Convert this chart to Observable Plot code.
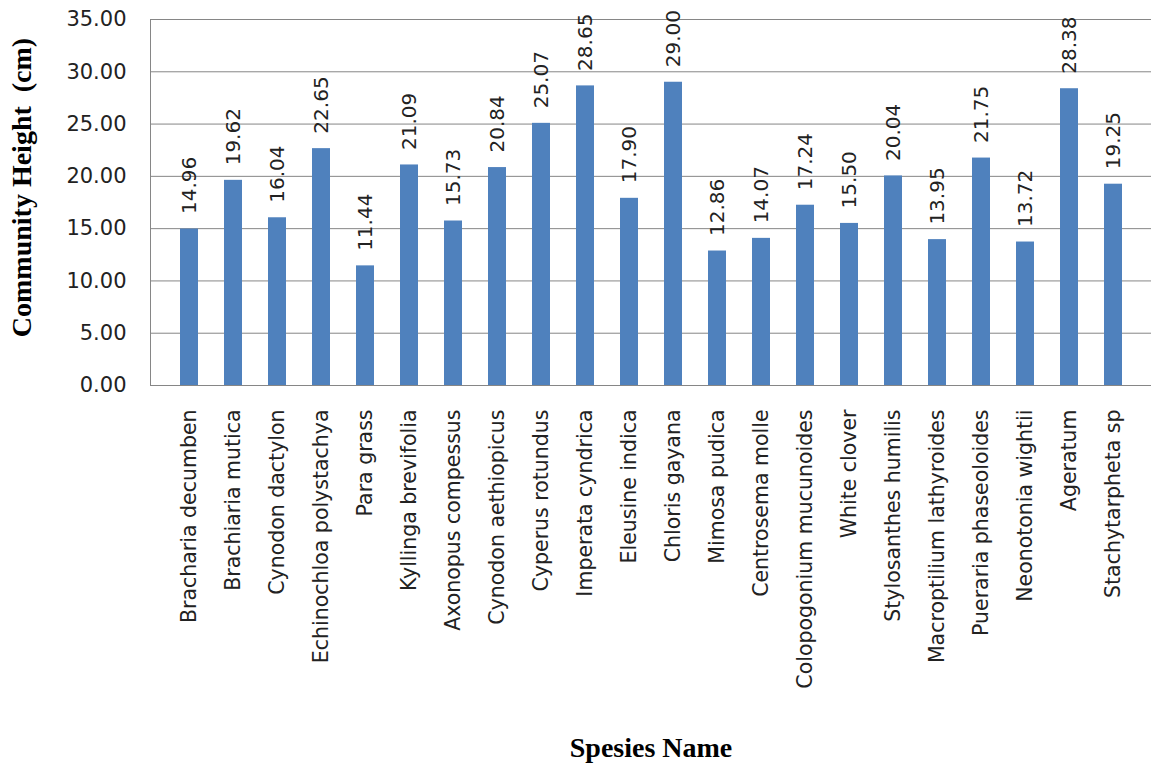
<!DOCTYPE html>
<html>
<head>
<meta charset="utf-8">
<script src="https://cdn.jsdelivr.net/npm/d3@7"></script>
<script src="https://cdn.jsdelivr.net/npm/@observablehq/plot@0.6"></script>
<style>
  html, body { margin: 0; padding: 0; background: #fff; }
  #chart { width: 1151px; height: 767px; }
</style>
</head>
<body>
<div id="chart"></div>
<script>
const species = [
  "Bracharia decumben", "Brachiaria mutica", "Cynodon dactylon", "Echinochloa polystachya",
  "Para grass", "Kyllinga brevifolia", "Axonopus compessus", "Cynodon aethiopicus",
  "Cyperus rotundus", "Imperata cyndrica", "Eleusine indica", "Chloris gayana",
  "Mimosa pudica", "Centrosema molle", "Colopogonium mucunoides", "White clover",
  "Stylosanthes humilis", "Macroptilium lathyroides", "Pueraria phaseoloides",
  "Neonotonia wightii", "Ageratum", "Stachytarpheta sp"
];
const heights = [
  14.96, 19.62, 16.04, 22.65, 11.44, 21.09, 15.73, 20.84, 25.07, 28.65, 17.90,
  29.00, 12.86, 14.07, 17.24, 15.50, 20.04, 13.95, 21.75, 13.72, 28.38, 19.25
];
const yTicks = [0, 5, 10, 15, 20, 25, 30, 35];
const yTitle = "Community Height  (cm)";
const xTitle = "Spesies Name";

const data = species.map((s, i) => ({species: s, height: heights[i]}));
const labelFont = "'DejaVu Sans', sans-serif";
const titleFont = "'Liberation Serif', 'Times New Roman', serif";

const chart = Plot.plot({
  width: 1151,
  height: 767,
  marginLeft: 150,
  marginRight: 0,
  marginTop: 19,
  marginBottom: 382,
  style: {fontFamily: labelFont, color: "#000", background: "#fff"},
  x: {domain: species, padding: 0.6, label: null},
  y: {domain: [0, 35], label: null},
  marks: [
    Plot.gridY(yTicks, {stroke: "#868686", strokeOpacity: 1, strokeWidth: 1}),
    Plot.frame({anchor: "left", stroke: "#868686", strokeOpacity: 1}),
    Plot.barY(data, {x: "species", y: "height", fill: "#4F81BD"}),
    Plot.ruleY([0], {stroke: "#868686", strokeWidth: 1}),
    Plot.axisY({ticks: yTicks, tickSize: 0, tickPadding: 24, tickFormat: d3.format(".2f"),
      fontSize: 21, label: null, fill: "#222"}),
    Plot.axisX({tickSize: 0, tickPadding: 24, tickRotate: -90, fontSize: 20.5, label: null, fill: "#222"}),
    Plot.text(data, {x: "species", y: "height", text: d => d3.format(".2f")(d.height),
      rotate: -90, textAnchor: "start", lineAnchor: "middle", dy: -15, fontSize: 20, fill: "#222"}),
    Plot.text([yTitle], {frameAnchor: "left", dx: -128, dy: -15, rotate: -90, textAnchor: "middle",
      fontFamily: titleFont, fontWeight: "bold", fontSize: 28, fill: "#000"}),
    Plot.text([xTitle], {frameAnchor: "bottom", dy: 371, dx: 0,
      fontFamily: titleFont, fontWeight: "bold", fontSize: 28, fill: "#000", lineAnchor: "bottom"})
  ]
});
document.getElementById("chart").appendChild(chart);
</script>
</body>
</html>
